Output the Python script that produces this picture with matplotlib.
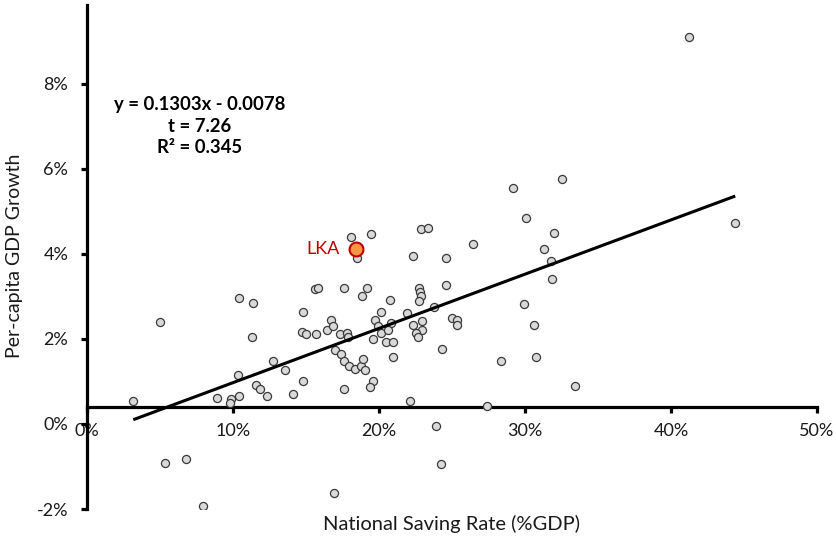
import numpy as np
import matplotlib
matplotlib.use('Agg')
import matplotlib.pyplot as plt
from matplotlib.ticker import FuncFormatter

# ---- data (percent) ----
saving_rate = [3.17, 5.00, 5.32, 6.76, 7.92, 8.93, 9.84, 9.79, 10.43, 10.36,
               10.43, 11.39, 11.28, 11.55, 11.87, 12.35, 12.76, 13.54, 14.09, 14.82,
               14.77, 14.75, 15.02, 15.66, 15.62, 15.80, 16.46, 16.73, 16.87, 17.01,
               17.35, 17.83, 17.90, 17.42, 17.60, 17.60, 17.62, 17.95, 18.33, 18.77,
               18.87, 19.06, 18.10, 19.45, 18.51, 19.16, 18.84, 19.61, 19.40, 19.75,
               19.96, 20.11, 20.11, 19.59, 20.46, 20.98, 20.94, 20.82, 20.64, 20.75,
               16.92, 21.90, 22.10, 22.33, 22.95, 22.92, 22.56, 22.69, 22.76, 22.81,
               22.86, 22.72, 22.33, 22.85, 23.33, 23.79, 23.90, 24.25, 24.34, 24.59,
               24.59, 25.00, 25.36, 25.32, 26.42, 27.40, 28.33, 29.20, 29.93, 30.09,
               30.64, 30.77, 31.30, 31.80, 31.87, 32.00, 32.55, 33.42, 41.25, 44.40]
gdp_growth = [0.53, 2.41, -0.92, -0.82, -1.93, 0.62, 0.58, 0.50, 0.65, 1.15,
              2.96, 2.84, 2.05, 0.91, 0.83, 0.66, 1.48, 1.27, 0.71, 1.02,
              2.64, 2.17, 2.11, 2.11, 3.18, 3.19, 2.21, 2.45, 2.31, 1.74,
              2.12, 2.13, 2.05, 1.65, 1.48, 3.21, 0.82, 1.36, 1.30, 1.36,
              1.52, 1.27, 4.40, 4.47, 3.91, 3.19, 3.01, 1.02, 0.88, 2.45,
              2.31, 2.63, 2.15, 2.00, 1.92, 1.92, 1.57, 2.37, 2.21, 2.92,
              -1.62, 2.60, 0.53, 2.34, 2.42, 2.21, 2.15, 2.05, 3.21, 3.10,
              3.00, 2.90, 3.95, 4.58, 4.62, 2.75, -0.05, -0.94, 1.76, 3.27,
              3.91, 2.50, 2.45, 2.34, 4.24, 0.43, 1.48, 5.55, 2.82, 4.85,
              2.32, 1.57, 4.11, 3.84, 3.42, 4.49, 5.76, 0.89, 9.11, 4.74]
lka_label = "LKA"
lka_saving = 18.42
lka_growth = 4.11

x_ticks = [0, 10, 20, 30, 40, 50]
y_ticks = [-2, 0, 2, 4, 6, 8]
equation_lines = ["y = 0.1303x - 0.0078", "t = 7.26", "R\u00b2 = 0.345"]
x_label = "National Saving Rate (%GDP)"
y_label = "Per-capita GDP Growth"

plt.rcParams['font.family'] = ['Lato', 'DejaVu Sans']

x = np.array(saving_rate) / 100
y = np.array(gdp_growth) / 100
all_x = np.append(x, lka_saving / 100)
all_y = np.append(y, lka_growth / 100)

W, H = 837, 540
fig = plt.figure(figsize=(W / 100, H / 100), dpi=100)
fx = lambda px: px / W
fy = lambda py: 1 - py / H

ax = fig.add_axes([fx(87), fy(509), fx(817) - fx(87), fy(4.5) - fy(509)])
ax.set_xlim(0, 0.5)
ax.set_ylim(-0.02, 0.0987)

for s in ['top', 'right']:
    ax.spines[s].set_visible(False)
ax.spines['left'].set_position(('data', 0))
ax.spines['bottom'].set_position(('data', 0.004))
for s in ['left', 'bottom']:
    ax.spines[s].set_linewidth(2.3)
    ax.spines[s].set_color('black')

ax.set_xticks(np.array(x_ticks) / 100)
ax.set_yticks(np.array(y_ticks) / 100)
pct = FuncFormatter(lambda v, p: f"{v*100:.0f}%")
ax.xaxis.set_major_formatter(pct)
ax.yaxis.set_major_formatter(pct)
ax.tick_params(axis='both', direction='out', length=4.5, width=2.3, color='black',
               labelsize=13, labelcolor='#1a1a1a')
ax.tick_params(axis='x', pad=7)
ax.tick_params(axis='y', pad=9)

ax.scatter(x, y, s=34, facecolor='#d9d9d9', edgecolor='#3a3a3a', linewidth=0.9, zorder=3)

# regression line over data range
slope, intercept = np.polyfit(all_x, all_y, 1)
xr = np.array([all_x.min(), all_x.max()])
ax.plot(xr, slope * xr + intercept, color='black', lw=2.2, zorder=4, solid_capstyle='butt')

ax.scatter([lka_saving / 100], [lka_growth / 100], s=100, facecolor='#f79646',
           edgecolor='#c00000', linewidth=1.5, zorder=5)
ax.annotate(lka_label, (lka_saving / 100, lka_growth / 100), xytext=(-12, 0),
            textcoords='offset points', ha='right', va='center', color='#c00000', fontsize=13)

fig.text(fx(200), fy(126), "\n".join(equation_lines), ha='center', va='center',
         fontsize=13.3, fontweight='bold', linespacing=1.35, color='black')

fig.text(fx(15), fy(256), y_label, rotation=90, ha='center', va='center', fontsize=14,
         color='#1a1a1a')
fig.text(fx(452), fy(524), x_label, ha='center', va='center', fontsize=14.5, color='#1a1a1a')

fig.savefig('out.png', dpi=100)
